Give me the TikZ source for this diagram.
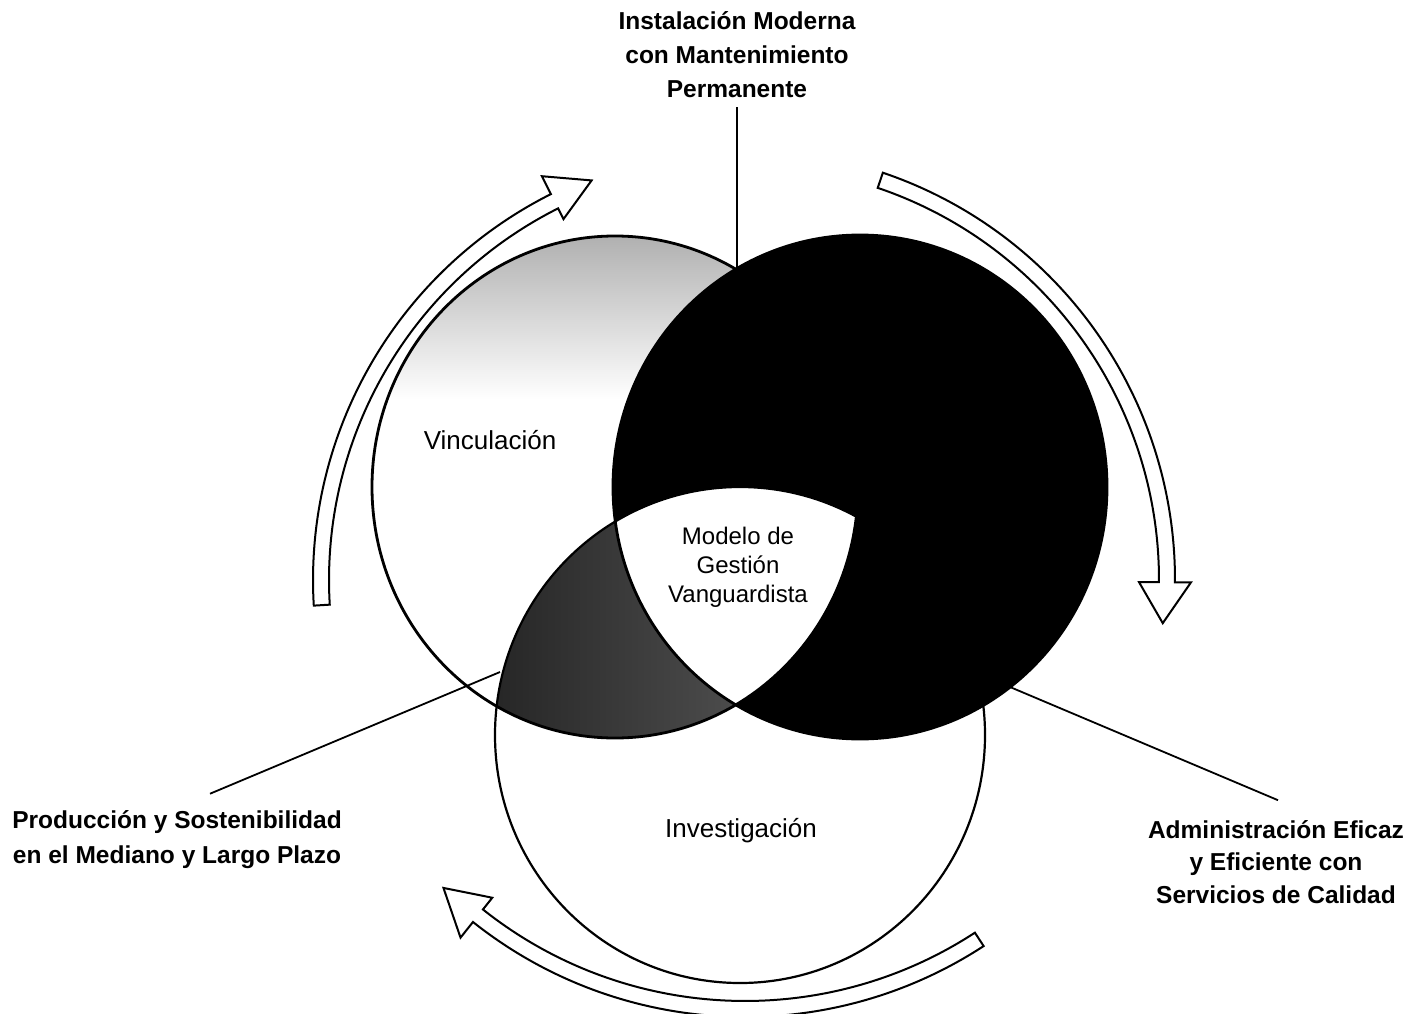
\documentclass[tikz,border=0pt]{standalone}
\usepackage{fontspec}
\setmainfont{Liberation Sans}
\begin{document}
\begin{tikzpicture}[x=1pt,y=1pt,
  outlab/.style={font=\bfseries\fontsize{24.5}{34}\selectfont, align=center, inner sep=0pt},
  inlab/.style={font=\fontsize{26}{30}\selectfont, inner sep=0pt},
  midlab/.style={font=\fontsize{24}{29}\selectfont, align=center, inner sep=0pt},
  ring/.style={line width=2.8pt},
  thinring/.style={line width=2.2pt},
  cycarrow/.style={draw=black, fill=white, line width=2pt, line join=miter},
  leader/.style={line width=1.8pt}]
\useasboundingbox (0,0) rectangle (1416,-1014);
\fill[white] (0,0) rectangle (1416,-1014);

% ---- regions ----
\fill[white] (615,-487) ellipse[x radius=243, y radius=251];
\fill[white] (740,-735) ellipse[x radius=245, y radius=248];
\begin{scope}
  \clip (615,-487) ellipse[x radius=243, y radius=251];
  \shade[top color=black!32, bottom color=white] (360,-230) rectangle (860,-400);
\end{scope}
\begin{scope}
  \clip (615,-487) ellipse[x radius=243, y radius=251];
  \shade[left color=black!85, right color=black!55] (740,-735) ellipse[x radius=245, y radius=248];
\end{scope}
\fill[black] (860,-487) ellipse[x radius=247, y radius=252];
\begin{scope}
  \clip (615,-487) ellipse[x radius=243, y radius=251];
  \clip (740,-735) ellipse[x radius=245, y radius=248];
  \fill[white] (860,-487) ellipse[x radius=247, y radius=252];
\end{scope}
\draw[ring] (615,-487) ellipse[x radius=243, y radius=251];
\draw[thinring] (740,-735) ellipse[x radius=245, y radius=248];
\draw[ring] (860,-487) ellipse[x radius=247, y radius=252];

% ---- cycle arrows ----
\begin{scope}[shift={(745,-580)}]
  \draw[cycarrow] (183.4:432) arc[start angle=183.4, end angle=116.7, radius=432]
    -- (116.7:452) -- (111:428) -- (116.7:404) -- (116.7:416)
    arc[start angle=116.7, end angle=183.4, radius=416] -- cycle;
  \draw[cycarrow] (71.3:430) arc[start angle=71.3, end angle=-0.3, radius=430]
    -- (-0.3:446) -- (-5.9:420) -- (-0.3:394) -- (-0.3:414)
    arc[start angle=-0.3, end angle=71.3, radius=414] -- cycle;
  \draw[cycarrow] (303.1:437) arc[start angle=303.1, end angle=231.5, radius=437]
    -- (231.5:457) -- (225.6:431) -- (231.5:406) -- (231.5:421)
    arc[start angle=231.5, end angle=303.1, radius=421] -- cycle;
\end{scope}

% ---- labels ----
\node[outlab] (instal) at (737,-55) {Instalación Moderna\\con Mantenimiento\\Permanente};
\node[inlab] (vinc) at (490,-440) {Vinculación};
\node[midlab] (modelo) at (738,-567) {Modelo de\\Gestión\\Vanguardista};
\node[inlab] (invest) at (741,-831) {Investigación};
\node[outlab, font=\bfseries\fontsize{24.5}{35}\selectfont] (prod) at (177,-840) {Producción y Sostenibilidad\\en el Mediano y Largo Plazo};
\node[outlab, font=\bfseries\fontsize{24.5}{32.5}\selectfont] (admin) at (1276,-862) {Administración Eficaz\\y Eficiente con\\Servicios de Calidad};

% ---- leaders ----
\coordinate (topend) at (737,-268);
\coordinate (lensend) at (500,-672);
\coordinate (adminend) at (1010,-687);
\draw[leader] ([yshift=-9pt]instal.south) -- (topend);
\draw[leader] ([xshift=33pt,yshift=17pt]prod.north) -- (lensend);
\draw[leader] (adminend) -- ([xshift=2pt,yshift=20pt]admin.north);
\end{tikzpicture}
\end{document}
